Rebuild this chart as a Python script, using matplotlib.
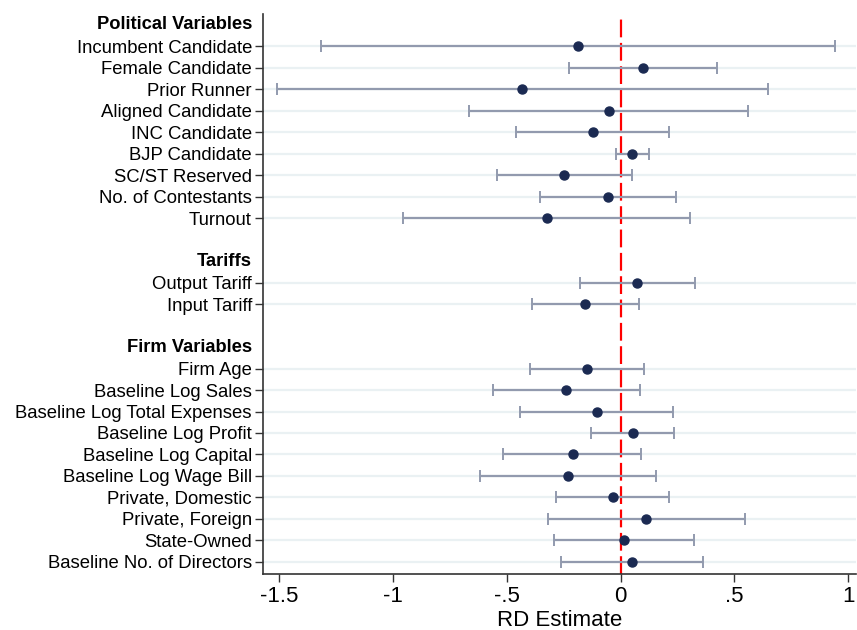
import matplotlib
matplotlib.use("Agg")
import matplotlib.pyplot as plt
import matplotlib.transforms as mtransforms
import numpy as np

plt.rcParams["font.family"] = ["Liberation Sans", "DejaVu Sans"]

# > Data (estimate, lower CI, upper CI)
groups = ["Political Variables", "Tariffs", "Firm Variables"]

political_labels = [
    "Incumbent Candidate", "Female Candidate", "Prior Runner",
    "Aligned Candidate", "INC Candidate", "BJP Candidate",
    "SC/ST Reserved", "No. of Contestants", "Turnout",
]
political_est = [-0.188, 0.099, -0.431, -0.052, -0.122, 0.052, -0.247, -0.055, -0.324]
political_lo = [-1.314, -0.228, -1.507, -0.664, -0.458, -0.022, -0.542, -0.352, -0.955]
political_hi = [0.940, 0.423, 0.646, 0.559, 0.215, 0.126, 0.049, 0.245, 0.305]

tariff_labels = ["Output Tariff", "Input Tariff"]
tariff_est = [0.074, -0.156]
tariff_lo = [-0.180, -0.388]
tariff_hi = [0.327, 0.079]

firm_labels = [
    "Firm Age", "Baseline Log Sales", "Baseline Log Total Expenses",
    "Baseline Log Profit", "Baseline Log Capital", "Baseline Log Wage Bill",
    "Private, Domestic", "Private, Foreign", "State-Owned",
    "Baseline No. of Directors",
]
firm_est = [-0.149, -0.238, -0.104, 0.055, -0.210, -0.230, -0.035, 0.112, 0.015, 0.050]
firm_lo = [-0.399, -0.560, -0.440, -0.128, -0.515, -0.616, -0.285, -0.317, -0.294, -0.263]
firm_hi = [0.102, 0.086, 0.232, 0.237, 0.092, 0.156, 0.211, 0.545, 0.322, 0.364]

blocks = [
    (political_labels, political_est, political_lo, political_hi),
    (tariff_labels, tariff_est, tariff_lo, tariff_hi),
    (firm_labels, firm_est, firm_lo, firm_hi),
]

# > Build row positions: header row, items, one blank row between groups
labels, est, lo, hi, ypos, header_pos = [], [], [], [], [], []
row = 0
for (lab, e, l, h) in blocks:
    header_pos.append(row)
    row += 1
    for i in range(len(lab)):
        labels.append(lab[i])
        est.append(e[i])
        lo.append(l[i])
        hi.append(h[i])
        ypos.append(row)
        row += 1
    row += 1

est = np.array(est)
lo = np.array(lo)
hi = np.array(hi)
ypos = np.array(ypos)

fig = plt.figure(figsize=(8.57, 6.3), dpi=100)
ax = fig.add_axes([0.307, 0.089, 0.692, 0.889])

for y in ypos:
    ax.axhline(y, color="#eaf1f3", lw=1.6, zorder=0)

ax.axvline(0, color="#ff0000", lw=1.6, dashes=(8, 2.5), zorder=1)

ax.errorbar(est, ypos, xerr=[est - lo, hi - est], fmt="none",
            ecolor="#929aae", elinewidth=1.6, capsize=4.2, capthick=1.4, zorder=2)
ax.plot(est, ypos, "o", color="#1b2a52", ms=6.5, zorder=3)

ax.set_xlim(-1.57, 1.035)
ax.set_ylim(25.56, -0.51)
ax.set_xticks([-1.5, -1, -0.5, 0, 0.5, 1])
ax.set_xticklabels(["-1.5", "-1", "-.5", "0", ".5", "1"], fontsize=16)
ax.set_yticks(ypos)
ax.set_yticklabels(labels, fontsize=13.3)
ax.tick_params(axis="y", length=6, width=1, color="#333333", pad=2)
ax.tick_params(axis="x", length=6, width=1, color="#333333", pad=3)
ax.set_xlabel("RD Estimate", fontsize=16)
ax.xaxis.set_label_coords(0.5, -0.064)

for side in ["top", "right"]:
    ax.spines[side].set_visible(False)
for side in ["left", "bottom"]:
    ax.spines[side].set_linewidth(1.2)
    ax.spines[side].set_color("#333333")

# Group headers in bold, right aligned with tick labels
trans = mtransforms.blended_transform_factory(ax.transAxes, ax.transData)
offset = mtransforms.ScaledTranslation(-8 / 72, 0, fig.dpi_scale_trans)
for name, y in zip(groups, header_pos):
    ax.text(0, y, name, transform=trans + offset, ha="right", va="center",
            fontsize=13.2, fontweight="bold")

fig.savefig("out.png", dpi=100)
